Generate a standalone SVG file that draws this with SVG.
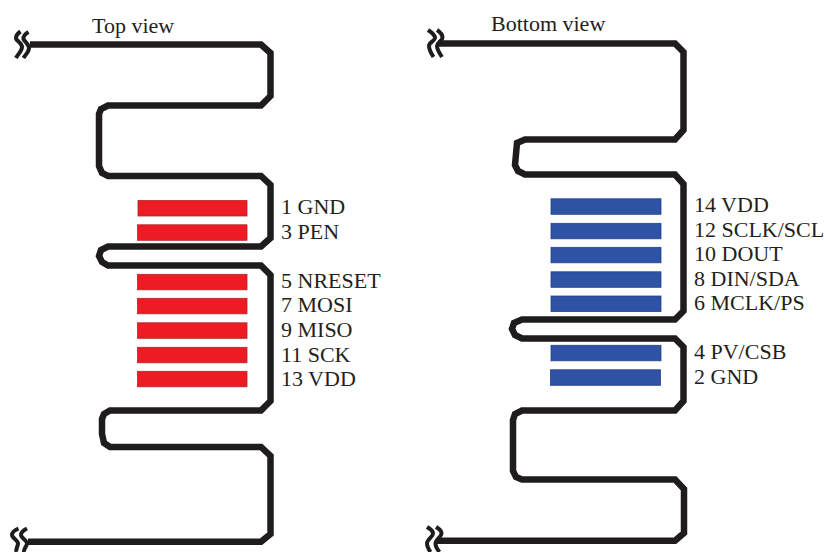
<svg xmlns="http://www.w3.org/2000/svg" width="824" height="552" viewBox="0 0 824 552">
<style>
text{font-family:"Liberation Serif","Times New Roman",serif;font-size:22px;fill:#231f20}
.trace{fill:none;stroke:#1f1c1d;stroke-width:6.500;stroke-linejoin:miter}
.brk{fill:none;stroke:#1f1c1d;stroke-width:4}
.red{fill:#ed1c24;stroke:#b5242a;stroke-width:.8}
.blue{fill:#2e52a4;stroke:#27408f;stroke-width:.8}
</style>
<rect width="824" height="552" fill="#fff"/>
<g id="connectors">
<path class="trace" d="M30 44.500H261L270.500 53V96L261 105.500H108L101 109L99 114V166L102 173L108 176H261L270.500 185V238L261 246.500H108L101 250L99 256L102 262L108 265.500H261L270.500 275V401L261 410.500H110L104 414L102 419V434L104 443L110 447H261L270.500 456V534L261 541.800H28"/>
<path class="trace" d="M438 43.500H675L683.500 52V130L675 139.500H525L517 143L515 165L518 171L525 174.500H675L683.500 184V311L675 319.500H522L514 323L512 329L515 335L522 338.500H675L683.500 347V401L675 410.500H522L515 414L513 420V471L516 477L522 479.500H675L684 489V533L675 540.800H437"/>
</g>
<g id="breaks">
<path class="brk" d="M20.500 31.500C17 34 15.500 36 16 38.500C17 41.500 22 43 22 47C22 51 18 54 16 58"/>
<path class="brk" d="M28.500 32C25 34 23 36 23.500 39C24.500 42 29 44 29 48C29 52 25 55 23.500 58"/>
<path class="brk" d="M18.500 528.500C15 530 12 532 12 535C12 538 18 540 18 543.500C18 546 15.500 549 16.500 552"/>
<path class="brk" d="M27 528.500C24 530 21 532 21 535C21 538 27 540 27 543.500C27 546 23.500 549 24 552"/>
<path class="brk" d="M428 30C431 32 435 34.500 435 38C435 41 429 42 429 46C429 50 431 53 433.500 57"/>
<path class="brk" d="M437 30C440 32 442.500 34 442.500 37.500C442.500 41 437 42 437 46C437 50 439.500 53 442 57"/>
<path class="brk" d="M427 527C430 529 433 530 433 533.500C433 537 427 539 427 543.500C427 546 428.500 549 430.500 552"/>
<path class="brk" d="M436 527C439 529 441.500 530 441.500 533.500C441.500 537 435.500 539 435.500 543.500C435.500 546 437 549 439.500 552"/>
</g>
<g id="top-view">
<text x="92" y="33">Top view</text>
<rect class="red" x="138" y="200.500" width="109" height="15.500"/>
<rect class="red" x="137.500" y="224.800" width="109.500" height="15.500"/>
<rect class="red" x="137.500" y="274.300" width="109.500" height="15.500"/>
<rect class="red" x="137.500" y="298.300" width="109.500" height="15.500"/>
<rect class="red" x="137.500" y="322.800" width="109.500" height="15.500"/>
<rect class="red" x="137.500" y="347.300" width="109.500" height="15.500"/>
<rect class="red" x="137.500" y="371.300" width="109.500" height="15.500"/>
<text x="281" y="214">1 GND</text>
<text x="281" y="239">3 PEN</text>
<text x="281" y="288">5 NRESET</text>
<text x="281" y="312">7 MOSI</text>
<text x="281" y="337">9 MISO</text>
<text x="281" y="362">11 SCK</text>
<text x="281" y="386">13 VDD</text>
</g>
<g id="bottom-view">
<text x="491" y="30.500">Bottom view</text>
<rect class="blue" x="551" y="198.800" width="110" height="15.500"/>
<rect class="blue" x="551" y="223.300" width="110" height="15.500"/>
<rect class="blue" x="551" y="247.300" width="110" height="15.500"/>
<rect class="blue" x="551" y="271.800" width="110" height="15.500"/>
<rect class="blue" x="551" y="296" width="110" height="15.500"/>
<rect class="blue" x="551" y="345.300" width="110" height="15.500"/>
<rect class="blue" x="550.500" y="369.800" width="110" height="15.500"/>
<text x="694" y="212">14 VDD</text>
<text x="694" y="237">12 SCLK/SCL</text>
<text x="694" y="261">10 DOUT</text>
<text x="694" y="286">8 DIN/SDA</text>
<text x="694" y="310">6 MCLK/PS</text>
<text x="694" y="359">4 PV/CSB</text>
<text x="694" y="384">2 GND</text>
</g>
</svg>
